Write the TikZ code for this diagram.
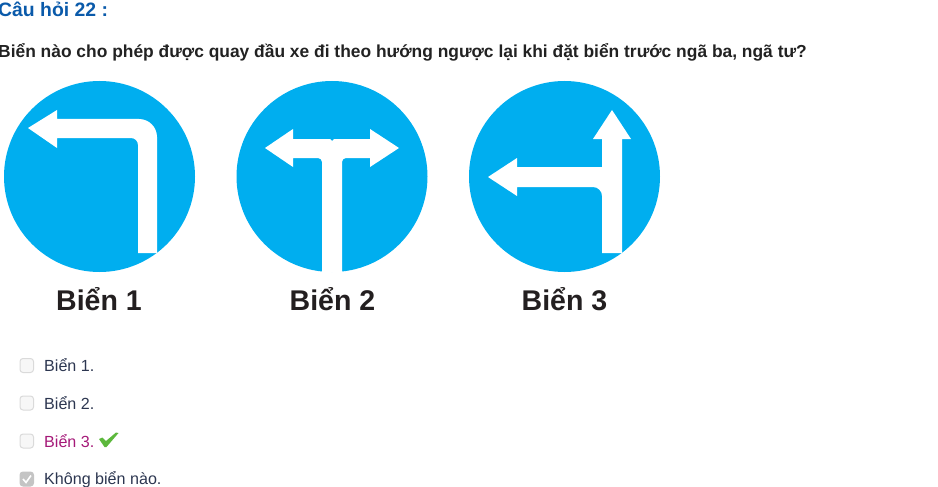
\documentclass[tikz,border=0pt]{standalone}
\usepackage{fontspec}
\usepackage{xcolor}
\setmainfont{Liberation Sans}
\definecolor{signblue}{RGB}{0, 174, 239}
\definecolor{titleblue}{RGB}{10, 90, 170}
\definecolor{questionink}{RGB}{34, 34, 34}
\definecolor{labelink}{RGB}{35, 31, 32}
\definecolor{optionink}{RGB}{44, 54, 80}
\definecolor{answerink}{RGB}{165, 25, 120}
\definecolor{boxbg}{RGB}{247, 247, 247}
\definecolor{boxborder}{RGB}{218, 218, 218}
\definecolor{tickgreen}{RGB}{92, 184, 60}
\tikzset{
    textline/.style={anchor=base west, inner sep=0pt},
    signlabel/.style={anchor=base, inner sep=0pt, font=\fontsize{28.5}{30}\selectfont\bfseries, text=labelink},
    optionline/.style={textline, font=\fontsize{16.1}{18}\selectfont, text=optionink},
    tickbox/.style={fill=boxbg, draw=boxborder, line width=1pt, rounded corners=3pt}
}

\begin{document}
\begin{tikzpicture}[x=1pt, y=-1pt]
    \useasboundingbox (0,0) rectangle (938,487);

    % Heading and question
    \node[textline, font=\fontsize{19.4}{21}\selectfont\bfseries, text=titleblue] (title) at (-2,17) {Câu hỏi 22 :};
    \node[textline, font=\fontsize{17.4}{19}\selectfont\bfseries, text=questionink] (question) at (-2,57.5)
        {Biển nào cho phép được quay đầu xe đi theo hướng ngược lại khi đặt biển trước ngã ba, ngã tư?};

    % Sign 1: road turning left
    \begin{scope}[shift={(99.5,176.5)}]
        \fill[signblue] (0,0) circle (95.5pt);
        \fill[white] (-71.5,-48.5) -- (-42.5,-66.5) -- (-42.5,-57.5) [rounded corners=18pt] -- (57.5,-57.5)
            [sharp corners] -- (57.5,76.5) -- (38.5,76.5) [rounded corners=7pt] -- (38.5,-38.5)
            [sharp corners] -- (-42.5,-38.5) -- (-42.5,-28.5) -- cycle;
    \end{scope}
    \node[signlabel] (label1) at (99,310.5) {Biển 1};

    % Sign 2: road splitting left and right
    \begin{scope}[shift={(332,176.5)}]
        \fill[signblue] (0,0) circle (95.5pt);
        \fill[white] (-67,-28.5) -- (-39,-47.5) -- (-39,-37.5) -- (-2,-37.5) -- (0,-35.5) -- (2,-37.5)
            -- (38,-37.5) -- (38,-47.5) -- (67,-28.5) -- (38,-9.5) -- (38,-18.5)
            [rounded corners=4pt] -- (10,-18.5) [sharp corners] -- (10,95.5) -- (-10,95.5)
            [rounded corners=4pt] -- (-10,-18.5) [sharp corners] -- (-39,-18.5) -- (-39,-9.5) -- cycle;
    \end{scope}
    \node[signlabel] (label2) at (332.5,310.5) {Biển 2};

    % Sign 3: left turn and straight on
    \begin{scope}[shift={(564.5,176.5)}]
        \fill[signblue] (0,0) circle (95.5pt);
        \fill[white] (47.5,-66.5) -- (66.5,-37.5) -- (57.5,-37.5) -- (57.5,76.5) -- (37.5,76.5)
            [rounded corners=9pt] -- (37.5,10.5) [sharp corners] -- (-47.5,10.5) -- (-47.5,19.5)
            -- (-76.5,0.5) -- (-47.5,-18.5) -- (-47.5,-9.5) -- (37.5,-9.5) -- (37.5,-37.5)
            -- (28.5,-37.5) -- cycle;
    \end{scope}
    \node[signlabel] (label3) at (564.5,310.5) {Biển 3};

    % Answer options
    \draw[tickbox] (20,358.5) rectangle (33.5,372.5);
    \node[optionline] (option1) at (44,371) {Biển 1.};
    \draw[tickbox] (20,396) rectangle (33.5,410);
    \node[optionline] (option2) at (44,409) {Biển 2.};
    \draw[tickbox] (20,434) rectangle (33.5,448);
    \node[optionline, text=answerink] (option3) at (44,447) {Biển 3.};
    \fill[tickgreen] (99,439) -- (102.5,437.5) -- (106,441) -- (116,432.5) -- (118.5,433)
        -- (106.5,447) -- (104.5,447) -- cycle;
    \draw[tickbox, draw=boxborder!90!black, fill=boxborder!90!black] (20,472) rectangle (33.5,486);
    \draw[white, line width=1.6pt] (23,479) -- (26,482.5) -- (31,475.5);
    \node[optionline] (option4) at (44,484) {Không biển nào.};
\end{tikzpicture}
\end{document}
